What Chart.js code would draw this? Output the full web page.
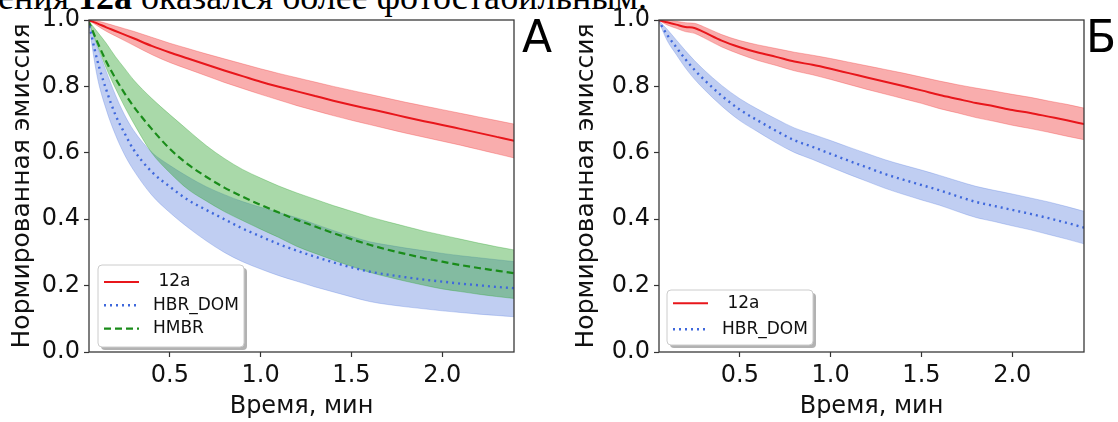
<!DOCTYPE html>
<html>
<head>
<meta charset="utf-8">
<script src="https://cdn.jsdelivr.net/npm/chart.js@4.4.1/dist/chart.umd.min.js"></script>
<style>
body{margin:0;background:#fff;width:1118px;height:422px;overflow:hidden;position:relative;}
#cA{position:absolute;left:0;top:0;}
#cB{position:absolute;left:570px;top:0;}
.caption{position:absolute;top:-21px;left:-2px;font:36px "Liberation Serif",serif;line-height:36px;white-space:nowrap;color:#000;}
.tag{position:absolute;font:44px "DejaVu Sans";line-height:44px;color:#000;}
</style>
</head>
<body>
<div class="caption">ения <b>12а</b> оказался более фотостабильным.</div>
<canvas id="cA" width="570" height="422"></canvas>
<canvas id="cB" width="548" height="422"></canvas>
<div class="tag" style="left:522px;top:15px">А</div>
<div class="tag" style="left:1086px;top:15px">Б</div>
<script>
// time, min
var times = [0.05,0.1,0.15,0.2,0.25,0.3,0.4,0.5,0.6,0.7,0.8,0.9,1.0,1.1,1.2,1.3,1.4,1.5,1.6,1.7,1.8,1.9,2.0,2.1,2.2,2.3,2.4];
var xTicks = [0.5,1.0,1.5,2.0];
var yTicks = [0,0.2,0.4,0.6,0.8,1.0];
var labels = [' 12a','HBR_DOM','HMBR'];

// panel A
var a12aMean  = [1.0,0.99,0.978,0.967,0.956,0.945,0.922,0.902,0.884,0.866,0.848,0.831,0.814,0.799,0.785,0.771,0.757,0.744,0.732,0.72,0.707,0.695,0.684,0.672,0.66,0.648,0.636];
var a12aUpper = [1.0,0.997,0.99,0.982,0.974,0.966,0.948,0.93,0.914,0.898,0.883,0.868,0.853,0.839,0.826,0.813,0.8,0.788,0.776,0.764,0.752,0.741,0.73,0.719,0.708,0.697,0.686];
var a12aLower = [1.0,0.983,0.966,0.952,0.938,0.924,0.896,0.872,0.852,0.832,0.812,0.794,0.776,0.759,0.742,0.727,0.712,0.698,0.685,0.672,0.659,0.647,0.635,0.623,0.61,0.597,0.584];
var aHbrMean  = [1.0,0.88,0.79,0.715,0.66,0.61,0.543,0.498,0.458,0.428,0.4,0.372,0.348,0.325,0.305,0.287,0.27,0.255,0.242,0.233,0.225,0.218,0.212,0.206,0.201,0.196,0.192];
var aHbrUpper = [1.0,0.92,0.845,0.775,0.715,0.668,0.602,0.562,0.528,0.498,0.474,0.453,0.436,0.42,0.404,0.385,0.366,0.348,0.332,0.322,0.313,0.305,0.297,0.29,0.284,0.278,0.272];
var aHbrLower = [1.0,0.83,0.73,0.655,0.595,0.548,0.473,0.42,0.375,0.335,0.3,0.272,0.25,0.23,0.213,0.196,0.181,0.166,0.152,0.143,0.136,0.13,0.124,0.119,0.114,0.11,0.106];
var aHmbrMean  = [1.0,0.935,0.875,0.825,0.78,0.74,0.672,0.612,0.565,0.528,0.495,0.468,0.443,0.42,0.398,0.378,0.358,0.34,0.323,0.308,0.295,0.283,0.272,0.262,0.253,0.245,0.237];
var aHmbrUpper = [1.0,0.965,0.93,0.89,0.855,0.82,0.764,0.715,0.668,0.622,0.583,0.55,0.524,0.5,0.479,0.46,0.441,0.424,0.407,0.392,0.378,0.364,0.352,0.34,0.328,0.317,0.307];
var aHmbrLower = [1.0,0.925,0.855,0.795,0.74,0.69,0.6,0.54,0.49,0.455,0.423,0.396,0.37,0.345,0.318,0.297,0.277,0.258,0.24,0.226,0.213,0.201,0.19,0.182,0.174,0.167,0.161];

// panel B
var b12aMean  = [1.0,0.993,0.986,0.979,0.976,0.964,0.938,0.918,0.902,0.889,0.875,0.865,0.853,0.84,0.827,0.814,0.801,0.788,0.774,0.762,0.75,0.74,0.729,0.72,0.709,0.698,0.686];
var b12aUpper = [1.0,1.0,0.996,0.992,0.99,0.98,0.956,0.938,0.925,0.914,0.903,0.894,0.884,0.873,0.862,0.851,0.84,0.828,0.816,0.805,0.795,0.786,0.776,0.767,0.756,0.746,0.734];
var b12aLower = [1.0,0.985,0.975,0.965,0.96,0.947,0.919,0.897,0.878,0.863,0.847,0.835,0.821,0.806,0.791,0.777,0.763,0.749,0.733,0.72,0.706,0.695,0.683,0.673,0.662,0.65,0.639];
var bHbrMean  = [1.0,0.955,0.918,0.882,0.85,0.822,0.772,0.73,0.697,0.666,0.638,0.618,0.597,0.576,0.556,0.536,0.519,0.503,0.487,0.469,0.452,0.44,0.428,0.416,0.403,0.389,0.374];
var bHbrUpper = [1.0,0.972,0.94,0.908,0.878,0.851,0.803,0.763,0.731,0.702,0.675,0.656,0.637,0.617,0.598,0.579,0.563,0.548,0.532,0.515,0.499,0.487,0.476,0.464,0.452,0.438,0.423];
var bHbrLower = [1.0,0.938,0.896,0.856,0.822,0.793,0.741,0.697,0.663,0.63,0.601,0.58,0.557,0.535,0.514,0.493,0.475,0.458,0.442,0.423,0.405,0.393,0.38,0.368,0.354,0.34,0.325];

var RED = '#e8161b', BLUE = '#3f68dc', GREEN = '#1a8c1a';
var RED_FILL = 'rgba(240,60,60,0.42)', BLUE_FILL = 'rgba(80,120,220,0.36)', GREEN_FILL = 'rgba(40,160,40,0.40)';

function pts(arr) {
    return times.map(function(t, i) { return {x: t, y: arr[i]}; });
}

function lineDs(label, arr, color, dash, width) {
    return {label: label, data: pts(arr), borderColor: color, borderWidth: width, borderDash: dash,
        pointRadius: 0, fill: false, order: 0, cubicInterpolationMode: 'monotone'};
}

function bandDs(lower, upper, color, order) {
    return [
        {label: '', data: pts(lower), borderColor: color, borderWidth: 0.8, pointRadius: 0, fill: false, order: order, cubicInterpolationMode: 'monotone'},
        {label: '', data: pts(upper), borderColor: color, borderWidth: 0.8, pointRadius: 0, fill: '-1', backgroundColor: color, order: order, cubicInterpolationMode: 'monotone'}
    ];
}

// box round the plot area
var frame = {
    id: 'frame',
    afterDatasetsDraw: function(chart) {
        var a = chart.chartArea, ctx = chart.ctx;
        ctx.save();
        ctx.strokeStyle = '#3a3a3a';
        ctx.lineWidth = 1.3;
        ctx.strokeRect(a.left, a.top, a.right - a.left, a.bottom - a.top);
        ctx.restore();
    }
};

// matplotlib style legend with shadow
var legendBox = {
    id: 'legendBox',
    afterDatasetsDraw: function(chart, args, o) {
        var ctx = chart.ctx;
        var items = chart.data.datasets.filter(function(d) { return d.label; });
        ctx.save();
        ctx.fillStyle = 'rgba(0,0,0,0.3)';
        ctx.beginPath(); ctx.roundRect(o.x + 3, o.y + 3, o.w, o.h, 4); ctx.fill();
        ctx.fillStyle = '#fff'; ctx.strokeStyle = '#cccccc'; ctx.lineWidth = 1;
        ctx.beginPath(); ctx.roundRect(o.x, o.y, o.w, o.h, 4); ctx.fill(); ctx.stroke();
        ctx.font = '17px "DejaVu Sans"';
        ctx.textBaseline = 'middle';
        items.forEach(function(d, i) {
            var cy = o.y + o.first + i * o.gap;
            ctx.beginPath();
            ctx.setLineDash(d.borderDash || []);
            ctx.strokeStyle = d.borderColor;
            ctx.lineWidth = d.borderWidth;
            ctx.moveTo(o.x + 6, cy); ctx.lineTo(o.x + 41, cy);
            ctx.stroke();
            ctx.setLineDash([]);
            ctx.fillStyle = '#111';
            ctx.fillText(d.label, o.x + 55, cy);
        });
        ctx.restore();
    }
};

function makeChart(id, datasets, rightPad, titlePad, legendOpts) {
    var tickFont = {family: 'DejaVu Sans', size: 24};
    var gridOpts = {display: true, drawOnChartArea: false, drawTicks: true, tickLength: 5, tickColor: '#333', tickWidth: 1.2};
    return new Chart(document.getElementById(id), {
        type: 'line',
        data: {datasets: datasets},
        options: {
            responsive: false,
            animation: false,
            layout: {padding: {left: 0, right: rightPad, top: 20, bottom: 0}},
            plugins: {legend: {display: false}, tooltip: {enabled: false}, legendBox: legendOpts},
            scales: {
                x: {
                    type: 'linear', min: 0.055, max: 2.395,
                    afterBuildTicks: function(s) { s.ticks = xTicks.map(function(v) { return {value: v}; }); },
                    afterFit: function(s) { s.height = 70; },
                    grid: gridOpts, border: {display: false},
                    ticks: {font: tickFont, color: '#111', padding: 4, maxRotation: 0, autoSkip: false,
                        callback: function(v) { return Number(v).toFixed(1); }},
                    title: {display: true, text: 'Время, мин', color: '#111',
                        font: {family: 'DejaVu Sans', size: 24}, padding: {top: 0, bottom: 1}}
                },
                y: {
                    min: 0, max: 1,
                    afterBuildTicks: function(s) { s.ticks = yTicks.map(function(v) { return {value: v}; }); },
                    afterFit: function(s) { s.width = 89; },
                    grid: gridOpts, border: {display: false},
                    ticks: {font: tickFont, color: '#111', padding: 4,
                        callback: function(v) { return Number(v).toFixed(1); }},
                    title: {display: true, text: 'Нормированная эмиссия', color: '#111',
                        font: {family: 'DejaVu Sans', size: 25}, padding: {top: titlePad, bottom: 0}}
                }
            }
        },
        plugins: [frame, legendBox]
    });
}

var dsA = [
    lineDs(labels[0], a12aMean, RED, [], 2),
    lineDs(labels[1], aHbrMean, BLUE, [2, 4], 2.4),
    lineDs(labels[2], aHmbrMean, GREEN, [7, 4], 2.2)
].concat(bandDs(a12aLower, a12aUpper, RED_FILL, 1))
 .concat(bandDs(aHmbrLower, aHmbrUpper, GREEN_FILL, 1))
 .concat(bandDs(aHbrLower, aHbrUpper, BLUE_FILL, 2));

var dsB = [
    lineDs(labels[0], b12aMean, RED, [], 2),
    lineDs(labels[1], bHbrMean, BLUE, [2, 4], 2.4)
].concat(bandDs(b12aLower, b12aUpper, RED_FILL, 1))
 .concat(bandDs(bHbrLower, bHbrUpper, BLUE_FILL, 2));

makeChart('cA', dsA, 56, 7.5, {x: 98, y: 265, w: 146, h: 82, first: 17, gap: 23.3});
makeChart('cB', dsB, 34, 1, {x: 97, y: 290, w: 146, h: 55, first: 13.3, gap: 26});
</script>
</body>
</html>
